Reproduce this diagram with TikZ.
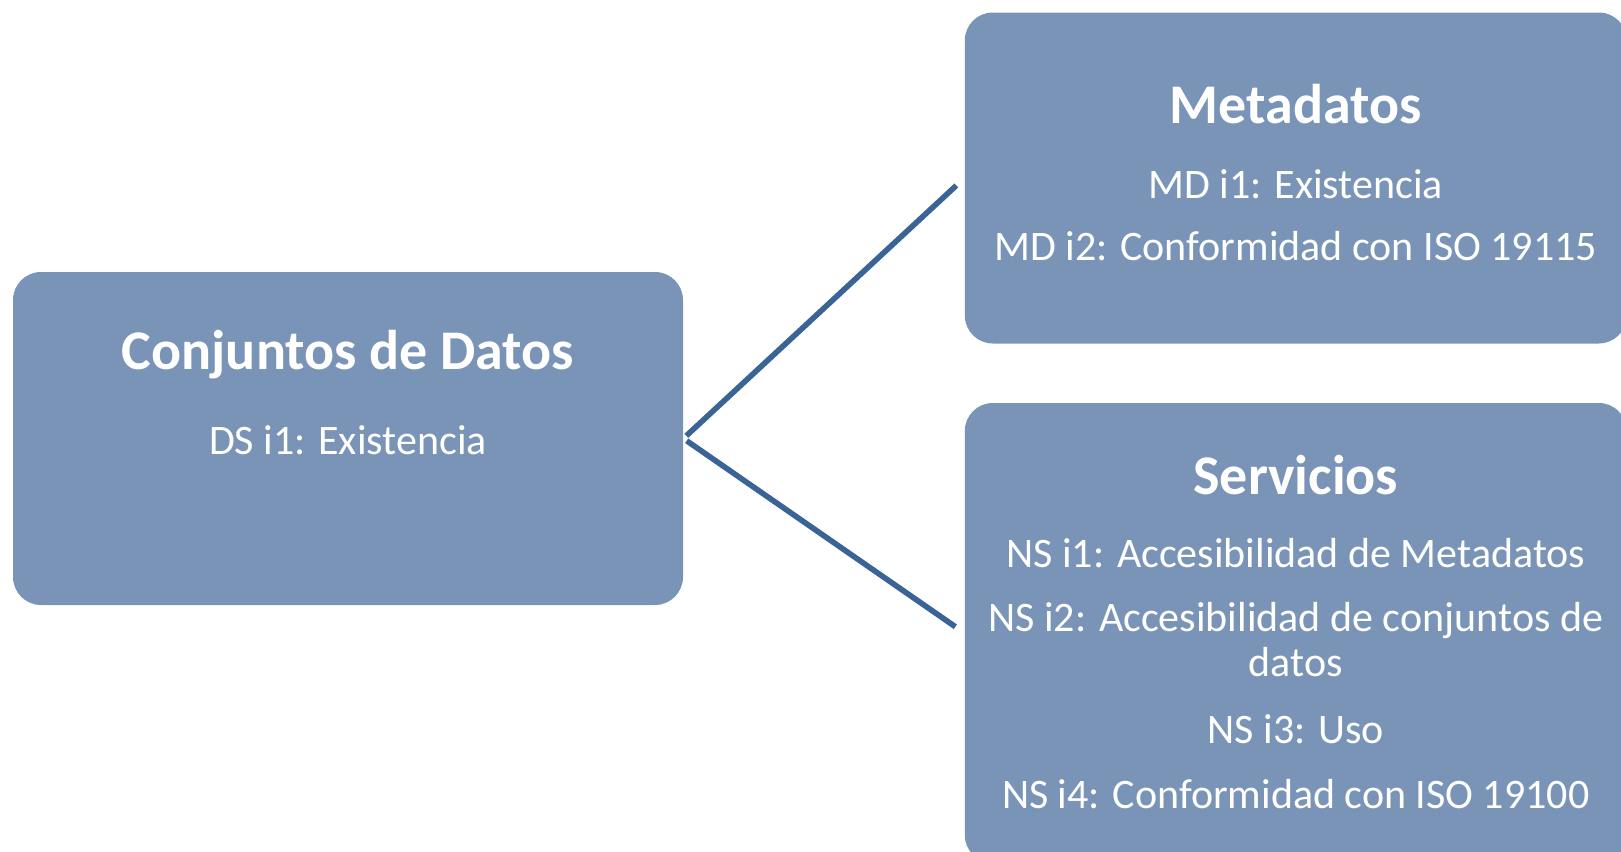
\documentclass[tikz,border=0pt]{standalone}
\usepackage{fontspec}
\setmainfont{Carlito}
\usetikzlibrary{positioning}
\definecolor{boxblue}{HTML}{7A94B8}
\definecolor{lineblue}{HTML}{3B6496}
\def\Head{\fontsize{28}{30}\bfseries\selectfont}
\def\Body{\fontsize{21}{22.5}\selectfont}

\begin{document}
\begin{tikzpicture}[% styles used by every box and line
					box/.style={
						rectangle,
						rounded corners=14pt,	% soft corners of the boxes
						fill=boxblue,draw=none
						},
					head/.style={text=white,font=\Head,inner sep=0pt},
					item/.style={text=white,font=\Body,inner sep=0pt,align=center},
					every edge/.style={draw,line width=2.8pt,lineblue,shorten <=2pt,shorten >=5.5pt}
					]
\useasboundingbox (0,0) rectangle (810.5pt,-425.5pt);
\node[box,minimum width=335pt,minimum height=166.5pt](DS) at (174pt,-219.25pt){};
\node[box,minimum width=331pt,minimum height=165.5pt,yshift=130.25pt](MD)[right=140.5pt of DS]{};
\node[box,minimum width=331pt,minimum height=230pt,yshift=-97.25pt](NS)[right=140.5pt of DS]{};
% texts of the left box
\node[head](DSt) at ([yshift=-41.5pt]DS.north){Conjuntos de Datos};
\node[item](DS1) at ([yshift=-84.5pt]DS.north){DS i1: Existencia};
% texts of the upper box
\node[head](MDt) at ([yshift=-46pt]MD.north){Metadatos};
\node[item](MD1) at ([yshift=-86pt]MD.north){MD i1: Existencia};
\node[item](MD2) at ([yshift=-117pt]MD.north){MD i2: Conformidad con ISO 19115};
% texts of the lower box
\node[head](NSt) at ([yshift=-36pt]NS.north){Servicios};
\node[item](NS1) at ([yshift=-75pt]NS.north){NS i1: Accesibilidad de Metadatos};
\node[item](NS2) at ([yshift=-118.25pt]NS.north){NS i2: Accesibilidad de conjuntos de\\datos};
\node[item](NS3) at ([yshift=-163.5pt]NS.north){NS i3: Uso};
\node[item](NS4) at ([yshift=-195.5pt]NS.north){NS i4: Conformidad con ISO 19100};
\path
(DS.east)edge []	node [] {} (MD.west)
(DS.east)edge []	node [] {} (NS.west)
;
\end{tikzpicture}
\end{document}
